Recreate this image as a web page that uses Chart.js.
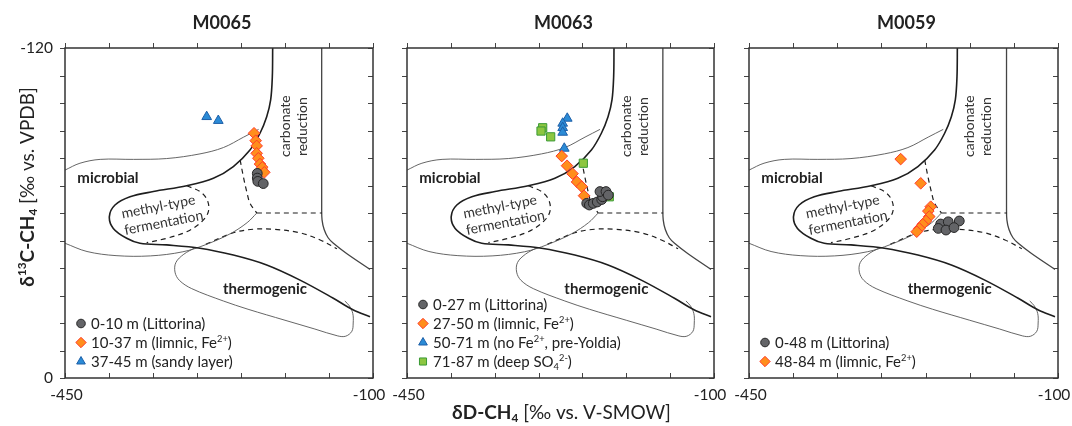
<!DOCTYPE html>
<html><head><meta charset="utf-8">
<script src="https://cdn.jsdelivr.net/npm/chart.js@4.4.1/dist/chart.umd.min.js"></script>
<style>
html,body{margin:0;padding:0;background:#fff;}
#wrap{position:relative;width:1072px;height:426px;overflow:hidden;background:#fff}
#wrap canvas{position:absolute;left:0;top:0}
</style></head><body>
<div id="wrap">
<canvas id="p0" width="1072" height="426"></canvas>
<canvas id="p1" width="1072" height="426"></canvas>
<canvas id="p2" width="1072" height="426"></canvas>
</div>
<script>
// ===================== DATA =====================
const panelTitles = ['M0065', 'M0063', 'M0059'];
const xTickLabels = [-450, -100];
const yTickLabels = [-120, 0];

// M0065  (dD-CH4, d13C-CH4)
const m65LittD = [-231.5, -231.5, -230.9, -224.7];
const m65LittC = [-74.4, -72.7, -71.5, -70.7];
const m65LimD  = [-235.2, -233.3, -232.2, -232.2, -230.3, -228.4, -225.8, -223.5];
const m65LimC  = [-89.0, -86.3, -84.4, -81.7, -79.9, -77.8, -76.6, -74.8];
const m65SandD = [-289.0, -275.8];
const m65SandC = [-95.0, -93.6];
const m65Labels = ['0-10 m (Littorina)', '10-37 m (limnic, Fe^{2+})', '37-45 m (sandy layer)'];

// M0063
const m63LittD = [-245.1, -242.1, -237.6, -233.1, -228.0, -226.9, -230.0, -223.1, -220.5];
const m63LittC = [-63.5, -62.9, -63.5, -64.0, -64.9, -65.9, -67.8, -67.8, -66.5];
const m63LimD  = [-273.6, -267.6, -261.3, -256.2, -250.8, -248.2];
const m63LimC  = [-80.7, -77.2, -74.3, -71.3, -69.6, -66.3];
const m63PreYD = [-267.3, -272.5, -272.5, -272.5, -270.7];
const m63PreYC = [-94.4, -92.6, -91.0, -89.3, -83.5];
const m63DeepD = [-295.3, -297.2, -286.2, -249.0, -219.4];
const m63DeepC = [-91.0, -89.8, -87.7, -78.1, -65.9];
const m63Labels = ['0-27 m (Littorina)', '27-50 m (limnic, Fe^{2+})', '50-71 m (no Fe^{2+}, pre-Yoldia)', '71-87 m (deep SO_{4}^{2-})'];

// M0059
const m59LittD = [-232.9, -224.3, -211.8, -235.6, -226.9, -217.8];
const m59LittC = [-56.0, -56.8, -57.1, -54.4, -53.8, -54.7];
const m59LimD  = [-278.2, -255.5, -244.2, -246.9, -245.8, -249.5, -253.2, -257.1, -260.0];
const m59LimC  = [-79.6, -70.8, -62.3, -60.7, -58.7, -57.1, -55.9, -54.4, -53.2];
const m59Labels = ['0-48 m (Littorina)', '48-84 m (limnic, Fe^{2+})'];

// Genetic field boundaries (dD, d13C)
const thickD = [-214, -214.4, -216.3, -220.8, -228.4, -239.8, -258.7, -281.4, -311.7, -349.6, -376.1, -393.2, -399.6, -395.1, -379.9, -364.8, -334.5, -296.6, -258.7, -220.8, -182.9, -145.1, -122.3, -103.4];
const thickC = [-120, -109.6, -101.1, -95.0, -89.0, -82.9, -76.9, -72.6, -69.9, -67.8, -65.9, -62.9, -58.7, -54.4, -50.8, -49.0, -48.4, -47.2, -44.7, -41.1, -35.6, -29.0, -24.7, -22.3];
const microTopD = [-450, -433, -410, -372, -334.5, -296.6, -270, -247, -230];
const microTopC = [-75.6, -78.1, -79.5, -79.5, -79.8, -81.5, -83.8, -87.6, -90.4];
const microBotD = [-450, -425, -392, -353, -316, -290, -262, -243, -232];
const microBotC = [-49.0, -46.0, -44.5, -44.4, -45.9, -48.5, -52.5, -56.5, -60.0];
const co2DashD = [-251, -247.3, -243.5, -239.7, -232];
const co2DashC = [-79.3, -73.2, -67.8, -63.5, -60.0];
const flatDashD = [-232, -158];
const flatDashC = [-60, -60];
const methylD = [-311.7, -296.6, -288.3, -287.1, -294.7, -311.7, -334.5, -357.2];
const methylC = [-69.9, -67.8, -64.7, -60.5, -56.8, -53.2, -50.8, -49.2];
const carbRightD = [-158.3, -158.3, -157.9, -155.5, -151, -145, -130, -103.4];
const carbRightC = [-120, -62, -57.5, -54, -51, -49, -45.3, -39.5];
const thermoDashD = [-290, -258.7, -236, -213, -183, -160, -141];
const thermoDashC = [-48.6, -52.8, -54.1, -54.1, -52.8, -50.2, -47.0];
const thermoD = [-302, -315, -324, -325, -320, -306, -270, -242, -200, -166, -140, -131, -124, -122.5, -123, -127, -132];
const thermoC = [-47.4, -45, -42, -38.5, -35.5, -32.5, -28, -25, -21, -17.8, -15.3, -15.2, -17, -20, -23.5, -26.3, -28];

// Field names and their anchor (dD, d13C)
const fieldNames = ['microbial', 'methyl-type', 'fermentation', 'thermogenic', 'carbonate', 'reduction'];
const fieldD = [-436, -344, -338, -222.7, -200.5, -181];
const fieldC = [-72.7, -62.4, -56.6, -32.3, -91.6, -91.4];

// ===================== LAYOUT / STYLE =====================
const W = 1072, H = 426, AREA_TOP = 48, AREA_BOTTOM = 378;
const areaLeft = [65, 407, 749], areaRight = [373, 714, 1058];
const FAM = 'Lato, "Open Sans", "DejaVu Sans", sans-serif';
const INK = '#222';

const MARK = {
  circle:   {pointStyle: 'circle',   radius: 4.9, fill: '#636467', stroke: '#262626', lr: 4.3},
  diamond:  {pointStyle: 'rectRot',  radius: 5.8, fill: '#FF8E1C', stroke: '#FF3A2A', lr: 5.2},
  triangle: {pointStyle: 'triangle', radius: 5.6, fill: '#2B8BD6', stroke: '#1C5FA8', lr: 5.0},
  square:   {pointStyle: 'rect',     radius: 5.8, fill: '#8DC641', stroke: '#3A9A35', lr: 5.0}
};

const panels = [
  {series: [
    {kind: 'circle', d: m65LittD, c: m65LittC, label: m65Labels[0]},
    {kind: 'diamond', d: m65LimD, c: m65LimC, label: m65Labels[1]},
    {kind: 'triangle', d: m65SandD, c: m65SandC, label: m65Labels[2]}]},
  {series: [
    {kind: 'circle', d: m63LittD, c: m63LittC, label: m63Labels[0]},
    {kind: 'diamond', d: m63LimD, c: m63LimC, label: m63Labels[1]},
    {kind: 'triangle', d: m63PreYD, c: m63PreYC, label: m63Labels[2]},
    {kind: 'square', d: m63DeepD, c: m63DeepC, label: m63Labels[3]}]},
  {series: [
    {kind: 'circle', d: m59LittD, c: m59LittC, label: m59Labels[0]},
    {kind: 'diamond', d: m59LimD, c: m59LimC, label: m59Labels[1]}]}
];

const boundaries = [
  {d: thickD, c: thickC, w: 1.6, col: '#1e1e1e', dash: []},
  {d: microTopD, c: microTopC, w: 0.9, col: '#555', dash: []},
  {d: microBotD, c: microBotC, w: 0.9, col: '#555', dash: []},
  {d: co2DashD, c: co2DashC, w: 1.2, col: '#1e1e1e', dash: [5, 4]},
  {d: flatDashD, c: flatDashC, w: 1.2, col: '#1e1e1e', dash: [5, 4]},
  {d: methylD, c: methylC, w: 1.2, col: '#1e1e1e', dash: [5, 4]},
  {d: carbRightD, c: carbRightC, w: 1.3, col: '#444', dash: []},
  {d: thermoDashD, c: thermoDashC, w: 1.2, col: '#1e1e1e', dash: [5, 4]},
  {d: thermoD, c: thermoC, w: 0.9, col: '#555', dash: []}
];

const toPts = (d, c) => d.map((x, k) => ({x: x, y: c[k]}));
const toUnicode = s => s.replace('^{2+}', '\u00B2\u207A').replace('_{4}', '\u2084').replace('^{2-}', '\u00B2\u207B');

// ---------- rich text helpers ----------
function parseRich(str, bold) {
  const parts = [];
  const re = /\^\{([^}]*)\}|_\{([^}]*)\}|([^\^_]+)/g;
  let m;
  while ((m = re.exec(str))) {
    if (m[1] !== undefined) parts.push({t: m[1], b: bold, k: 'sup'});
    else if (m[2] !== undefined) parts.push({t: m[2], b: bold, k: 'sub'});
    else parts.push({t: m[3], b: bold, k: ''});
  }
  return parts;
}
function fontOf(p, size) {
  const s = p.k ? size * 0.62 : size;
  return (p.b ? 'bold ' : '') + s.toFixed(2) + 'px ' + FAM;
}
function drawRich(ctx, parts, x, base, size, align, color) {
  let total = 0;
  const ws = parts.map(p => { ctx.font = fontOf(p, size); const w = ctx.measureText(p.t).width; total += w; return w; });
  let cx = align === 'center' ? x - total / 2 : (align === 'right' ? x - total : x);
  ctx.fillStyle = color || INK;
  ctx.textAlign = 'left';
  ctx.textBaseline = 'alphabetic';
  parts.forEach((p, k) => {
    ctx.font = fontOf(p, size);
    let y = base;
    if (p.k === 'sup') y = base - size * 0.40;
    if (p.k === 'sub') y = base + size * 0.20;
    ctx.fillText(p.t, cx, y);
    cx += ws[k];
  });
}
function marker(ctx, kind, x, y, r) {
  const m = MARK[kind];
  ctx.save();
  ctx.fillStyle = m.fill; ctx.strokeStyle = m.stroke; ctx.lineWidth = 1;
  ctx.beginPath();
  if (kind === 'circle') ctx.arc(x, y, r, 0, Math.PI * 2);
  else if (kind === 'diamond') { ctx.moveTo(x, y - r); ctx.lineTo(x + r, y); ctx.lineTo(x, y + r); ctx.lineTo(x - r, y); ctx.closePath(); }
  else if (kind === 'triangle') { ctx.moveTo(x, y - r); ctx.lineTo(x + r * 0.866, y + r * 0.5); ctx.lineTo(x - r * 0.866, y + r * 0.5); ctx.closePath(); }
  else { const s = r * Math.SQRT1_2; ctx.rect(x - s, y - s, 2 * s, 2 * s); }
  ctx.fill(); ctx.stroke();
  ctx.restore();
}

// ---------- per-panel decoration plugin ----------
function decoPlugin(i) {
  return {
    id: 'deco' + i,
    afterDatasetsDraw(chart) {
      const ctx = chart.ctx, xs = chart.scales.x, ys = chart.scales.y;
      ctx.save();
      fieldNames.forEach((name, k) => {
        const px = xs.getPixelForValue(fieldD[k]), py = ys.getPixelForValue(fieldC[k]);
        ctx.save();
        ctx.translate(px, py);
        if (name === 'microbial') {
          drawRich(ctx, [{t: name, b: true, k: ''}], 0, 5.3, 15, 'left');
        } else if (name === 'thermogenic') {
          drawRich(ctx, [{t: name, b: true, k: ''}], 0, 5.3, 15, 'center');
        } else if (name === 'carbonate' || name === 'reduction') {
          ctx.rotate(-Math.PI / 2);
          drawRich(ctx, [{t: name, b: false, k: ''}], 0, 5, 14, 'center', '#333');
        } else {
          ctx.rotate(-11 * Math.PI / 180);
          drawRich(ctx, [{t: name, b: false, k: ''}], 0, 5, 14, 'center', '#333');
        }
        ctx.restore();
      });
      ctx.restore();
    },
    afterDraw(chart) {
      const ctx = chart.ctx, a = chart.chartArea, xs = chart.scales.x, ys = chart.scales.y;
      ctx.save();
      // tick marks
      ctx.strokeStyle = '#444'; ctx.lineWidth = 1;
      ctx.beginPath();
      xs.ticks.forEach(t => {
        const px = Math.round(xs.getPixelForValue(t.value)) + 0.5;
        ctx.moveTo(px, a.top - 5); ctx.lineTo(px, a.top);
        ctx.moveTo(px, a.bottom); ctx.lineTo(px, a.bottom - 5);
      });
      ys.ticks.forEach(t => {
        const py = Math.round(ys.getPixelForValue(t.value)) + 0.5;
        ctx.moveTo(a.left - 5, py); ctx.lineTo(a.left, py);
        ctx.moveTo(a.right, py); ctx.lineTo(a.right - 5, py);
      });
      ctx.stroke();
      // frame
      ctx.strokeStyle = '#333'; ctx.lineWidth = 1.5;
      ctx.strokeRect(a.left, a.top, a.right - a.left, a.bottom - a.top);
      // x tick labels (end values), nudged inward a little like the original
      xTickLabels.forEach(v => {
        const px = xs.getPixelForValue(v) + (v === xs.min ? 1.5 : -4);
        drawRich(ctx, [{t: String(v), b: false, k: ''}], px, 399.5, 15.5, 'center');
      });
      // title
      drawRich(ctx, [{t: panelTitles[i], b: true, k: ''}], (a.left + a.right) / 2 + 3, 28.5, 18, 'center');
      // legend
      const ser = panels[i].series;
      ser.forEach((s, k) => {
        const y = 361.5 - (ser.length - 1 - k) * 19;
        marker(ctx, s.kind, a.left + 16, y, MARK[s.kind].lr);
        drawRich(ctx, parseRich(s.label, false), a.left + 26, y + 5.3, 15, 'left');
      });
      // axis titles
      if (i === 0) {
        ctx.save();
        ctx.translate(27, 187);
        ctx.rotate(-Math.PI / 2);
        drawRich(ctx, [{t: '\u03B4', b: true, k: ''}, {t: '13', b: true, k: 'sup'}, {t: 'C-CH', b: true, k: ''}, {t: '4', b: true, k: 'sub'}, {t: ' [\u2030 vs. VPDB]', b: false, k: ''}], 0, 6.5, 19, 'center');
        ctx.restore();
      }
      if (i === 1) {
        drawRich(ctx, [{t: '\u03B4D-CH', b: true, k: ''}, {t: '4', b: true, k: 'sub'}, {t: ' [\u2030 vs. V-SMOW]', b: false, k: ''}], 561.5, 418.5, 19, 'center');
      }
      ctx.restore();
    }
  };
}

function build(i) {
  const datasets = [];
  panels[i].series.forEach(s => {
    const m = MARK[s.kind];
    datasets.push({
      label: toUnicode(s.label), data: toPts(s.d, s.c), showLine: false,
      pointStyle: m.pointStyle, pointRadius: m.radius, pointHoverRadius: m.radius,
      pointBackgroundColor: m.fill, pointBorderColor: m.stroke, pointBorderWidth: 1
    });
  });
  boundaries.forEach(b => {
    datasets.push({
      label: '', data: toPts(b.d, b.c), showLine: true, pointRadius: 0, pointHoverRadius: 0,
      borderColor: b.col, borderWidth: b.w, borderDash: b.dash, tension: 0.35, fill: false
    });
  });
  const L = areaLeft[i];
  new Chart(document.getElementById('p' + i), {
    type: 'scatter',
    data: {datasets: datasets},
    options: {
      responsive: false, animation: false, devicePixelRatio: 1, events: [],
      layout: {autoPadding: false, padding: {left: 0, top: AREA_TOP, right: W - areaRight[i], bottom: 0}},
      plugins: {legend: {display: false}, tooltip: {enabled: false}, title: {display: false}},
      scales: {
        x: {
          type: 'linear', position: 'bottom', min: -450, max: -100,
          grid: {display: false, drawTicks: false}, border: {display: false},
          ticks: {stepSize: 50, autoSkip: false, maxRotation: 0, display: false},
          afterFit: s => { s.height = H - AREA_BOTTOM; s.paddingLeft = 0; s.paddingRight = 0; }
        },
        y: {
          type: 'linear', position: 'left', min: -120, max: 0, reverse: true,
          grid: {display: false, drawTicks: false}, border: {display: false},
          ticks: {stepSize: 10, autoSkip: false, padding: 12, color: INK,
                  font: {family: FAM, size: 15.5},
                  callback: v => (i === 0 && yTickLabels.includes(v)) ? String(v) : ''},
          afterFit: s => { s.width = L; s.paddingTop = 0; s.paddingBottom = 0; }
        }
      }
    },
    plugins: [decoPlugin(i)]
  });
}
[0, 1, 2].forEach(build);
</script>
</body></html>
